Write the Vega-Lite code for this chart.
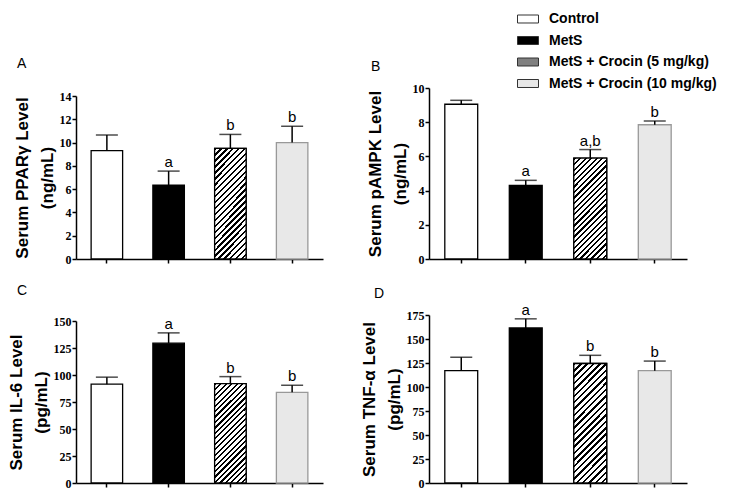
{
  "$schema": "https://vega.github.io/schema/vega-lite/v6.json",
  "autosize": "none",
  "padding": {"left": 76, "top": 88, "right": 664, "bottom": 412},
  "background": "white",
  "data": {"values": [
    {"panel": "A", "group": "Control", "mean": 9.3, "upper": 10.65, "sig": ""},
    {"panel": "A", "group": "MetS", "mean": 6.35, "upper": 7.55, "sig": "a"},
    {"panel": "A", "group": "MetS + Crocin (5 mg/kg)", "mean": 9.5, "upper": 10.7, "sig": "b"},
    {"panel": "A", "group": "MetS + Crocin (10 mg/kg)", "mean": 10.0, "upper": 11.4, "sig": "b"},
    {"panel": "B", "group": "Control", "mean": 9.05, "upper": 9.28, "sig": ""},
    {"panel": "B", "group": "MetS", "mean": 4.3, "upper": 4.6, "sig": "a"},
    {"panel": "B", "group": "MetS + Crocin (5 mg/kg)", "mean": 5.9, "upper": 6.4, "sig": "a,b"},
    {"panel": "B", "group": "MetS + Crocin (10 mg/kg)", "mean": 7.85, "upper": 8.07, "sig": "b"},
    {"panel": "C", "group": "Control", "mean": 91.5, "upper": 98, "sig": ""},
    {"panel": "C", "group": "MetS", "mean": 129.5, "upper": 139, "sig": "a"},
    {"panel": "C", "group": "MetS + Crocin (5 mg/kg)", "mean": 92, "upper": 98.5, "sig": "b"},
    {"panel": "C", "group": "MetS + Crocin (10 mg/kg)", "mean": 84, "upper": 90.5, "sig": "b"},
    {"panel": "D", "group": "Control", "mean": 117, "upper": 131, "sig": ""},
    {"panel": "D", "group": "MetS", "mean": 161.5, "upper": 171, "sig": "a"},
    {"panel": "D", "group": "MetS + Crocin (5 mg/kg)", "mean": 124.5, "upper": 133, "sig": "b"},
    {"panel": "D", "group": "MetS + Crocin (10 mg/kg)", "mean": 117, "upper": 127, "sig": "b"}
  ]},
  "columns": 2,
  "spacing": {"row": 56, "column": 106},
  "bounds": "flush",
  "resolve": {"scale": {"fill": "shared", "x": "independent", "y": "independent"}},
  "concat": [
    {
      "width": 247, "height": 171,
      "title": {"text": "A", "dx": -59, "offset": 17},
      "transform": [{"filter": "datum.panel === 'A'"}],
      "encoding": {
        "x": {"field": "group", "type": "nominal", "scale": {"domain": ["Control", "MetS", "MetS + Crocin (5 mg/kg)", "MetS + Crocin (10 mg/kg)"], "paddingInner": 0, "paddingOuter": 0}, "axis": {"labels": false, "title": null}},
        "y": {"field": "mean", "type": "quantitative", "title": ["Serum PPARγ Level", "(ng/mL)"], "scale": {"domain": [0, 14], "range": [171, 8], "nice": false}, "axis": {"values": [0, 2, 4, 6, 8, 10, 12, 14]}}
      },
      "layer": [
        {"mark": {"type": "bar", "width": {"band": 0.51}, "strokeWidth": 1.3},
         "encoding": {
           "fill": {"field": "group", "type": "nominal", "scale": {"domain": ["Control", "MetS", "MetS + Crocin (5 mg/kg)", "MetS + Crocin (10 mg/kg)"], "range": ["white", "black", "#808080", "#e8e8e8"]},
             "legend": {"title": null, "orient": "none", "legendX": 441, "legendY": -80, "direction": "vertical",
               "symbolType": "M-1,-0.38H1V0.38H-1Z", "symbolSize": 441, "symbolStrokeWidth": 1, "symbolStrokeColor": "#444",
               "labelFont": "Liberation Sans", "labelFontSize": 14, "labelFontWeight": "bold", "labelColor": "black", "labelOffset": 10, "labelLimit": 400, "rowPadding": 3.5,
               "encode": {"symbols": {"update": {
                 "fill": {"condition": {"test": "datum.value === 'MetS + Crocin (5 mg/kg)'", "value": {"gradient": "linear", "x1": 0, "y1": 0, "x2": 1.206, "y2": 0.46, "stops": [
                     {"offset": 0, "color": "black"}, {"offset": 0.0667, "color": "black"}, {"offset": 0.0667, "color": "white"}, {"offset": 0.1667, "color": "white"},
                     {"offset": 0.1667, "color": "black"}, {"offset": 0.2333, "color": "black"}, {"offset": 0.2333, "color": "white"}, {"offset": 0.3333, "color": "white"},
                     {"offset": 0.3333, "color": "black"}, {"offset": 0.4, "color": "black"}, {"offset": 0.4, "color": "white"}, {"offset": 0.5, "color": "white"},
                     {"offset": 0.5, "color": "black"}, {"offset": 0.5667, "color": "black"}, {"offset": 0.5667, "color": "white"}, {"offset": 0.6667, "color": "white"},
                     {"offset": 0.6667, "color": "black"}, {"offset": 0.7333, "color": "black"}, {"offset": 0.7333, "color": "white"}, {"offset": 0.8333, "color": "white"},
                     {"offset": 0.8333, "color": "black"}, {"offset": 0.9, "color": "black"}, {"offset": 0.9, "color": "white"}, {"offset": 1, "color": "white"}]}},
                   "value": {"expr": "scale('fill', datum.value)"}},
                 "stroke": {"condition": {"test": "datum.value === 'MetS + Crocin (10 mg/kg)'", "value": "#999999"}, "value": "#333333"}
               }}}
             }},
           "stroke": {"condition": {"test": "datum.group === 'MetS + Crocin (10 mg/kg)'", "value": "#999999"}, "value": "black"}
         }},
        {"transform": [{"filter": "datum.group === 'MetS + Crocin (5 mg/kg)'"}],
         "mark": {"type": "bar", "width": {"band": 0.51}, "stroke": "black", "strokeWidth": 1.3,
           "fill": {"gradient": "linear", "x1": 0, "y1": 0, "x2": 0.344, "y2": 1.19, "stops": [
             {"offset": 0, "color": "black"}, {"offset": 0.0167, "color": "black"}, {"offset": 0.0167, "color": "white"}, {"offset": 0.0417, "color": "white"},
             {"offset": 0.0417, "color": "black"}, {"offset": 0.0583, "color": "black"}, {"offset": 0.0583, "color": "white"}, {"offset": 0.0833, "color": "white"},
             {"offset": 0.0833, "color": "black"}, {"offset": 0.1, "color": "black"}, {"offset": 0.1, "color": "white"}, {"offset": 0.125, "color": "white"},
             {"offset": 0.125, "color": "black"}, {"offset": 0.1417, "color": "black"}, {"offset": 0.1417, "color": "white"}, {"offset": 0.1667, "color": "white"},
             {"offset": 0.1667, "color": "black"}, {"offset": 0.1833, "color": "black"}, {"offset": 0.1833, "color": "white"}, {"offset": 0.2083, "color": "white"},
             {"offset": 0.2083, "color": "black"}, {"offset": 0.225, "color": "black"}, {"offset": 0.225, "color": "white"}, {"offset": 0.25, "color": "white"},
             {"offset": 0.25, "color": "black"}, {"offset": 0.2667, "color": "black"}, {"offset": 0.2667, "color": "white"}, {"offset": 0.2917, "color": "white"},
             {"offset": 0.2917, "color": "black"}, {"offset": 0.3083, "color": "black"}, {"offset": 0.3083, "color": "white"}, {"offset": 0.3333, "color": "white"},
             {"offset": 0.3333, "color": "black"}, {"offset": 0.35, "color": "black"}, {"offset": 0.35, "color": "white"}, {"offset": 0.375, "color": "white"},
             {"offset": 0.375, "color": "black"}, {"offset": 0.3917, "color": "black"}, {"offset": 0.3917, "color": "white"}, {"offset": 0.4167, "color": "white"},
             {"offset": 0.4167, "color": "black"}, {"offset": 0.4333, "color": "black"}, {"offset": 0.4333, "color": "white"}, {"offset": 0.4583, "color": "white"},
             {"offset": 0.4583, "color": "black"}, {"offset": 0.475, "color": "black"}, {"offset": 0.475, "color": "white"}, {"offset": 0.5, "color": "white"},
             {"offset": 0.5, "color": "black"}, {"offset": 0.5167, "color": "black"}, {"offset": 0.5167, "color": "white"}, {"offset": 0.5417, "color": "white"},
             {"offset": 0.5417, "color": "black"}, {"offset": 0.5583, "color": "black"}, {"offset": 0.5583, "color": "white"}, {"offset": 0.5833, "color": "white"},
             {"offset": 0.5833, "color": "black"}, {"offset": 0.6, "color": "black"}, {"offset": 0.6, "color": "white"}, {"offset": 0.625, "color": "white"},
             {"offset": 0.625, "color": "black"}, {"offset": 0.6417, "color": "black"}, {"offset": 0.6417, "color": "white"}, {"offset": 0.6667, "color": "white"},
             {"offset": 0.6667, "color": "black"}, {"offset": 0.6833, "color": "black"}, {"offset": 0.6833, "color": "white"}, {"offset": 0.7083, "color": "white"},
             {"offset": 0.7083, "color": "black"}, {"offset": 0.725, "color": "black"}, {"offset": 0.725, "color": "white"}, {"offset": 0.75, "color": "white"},
             {"offset": 0.75, "color": "black"}, {"offset": 0.7667, "color": "black"}, {"offset": 0.7667, "color": "white"}, {"offset": 0.7917, "color": "white"},
             {"offset": 0.7917, "color": "black"}, {"offset": 0.8083, "color": "black"}, {"offset": 0.8083, "color": "white"}, {"offset": 0.8333, "color": "white"},
             {"offset": 0.8333, "color": "black"}, {"offset": 0.85, "color": "black"}, {"offset": 0.85, "color": "white"}, {"offset": 0.875, "color": "white"},
             {"offset": 0.875, "color": "black"}, {"offset": 0.8917, "color": "black"}, {"offset": 0.8917, "color": "white"}, {"offset": 0.9167, "color": "white"},
             {"offset": 0.9167, "color": "black"}, {"offset": 0.9333, "color": "black"}, {"offset": 0.9333, "color": "white"}, {"offset": 0.9583, "color": "white"},
             {"offset": 0.9583, "color": "black"}, {"offset": 0.975, "color": "black"}, {"offset": 0.975, "color": "white"}, {"offset": 1, "color": "white"}]}}},
        {"mark": {"type": "rule", "strokeWidth": 1.5, "color": "black"}, "encoding": {"y2": {"field": "upper"}}},
        {"mark": {"type": "tick", "size": 22, "thickness": 1.5, "color": "black"}, "encoding": {"y": {"field": "upper", "type": "quantitative"}}},
        {"mark": {"type": "text", "baseline": "alphabetic", "dy": -4, "fontSize": 15, "font": "Liberation Sans", "color": "black"}, "encoding": {"y": {"field": "upper", "type": "quantitative"}, "text": {"field": "sig"}}}
      ]
    },
    {
      "width": 258, "height": 171,
      "title": {"text": "B", "dx": -58, "offset": 8},
      "transform": [{"filter": "datum.panel === 'B'"}],
      "encoding": {
        "x": {"field": "group", "type": "nominal", "scale": {"domain": ["Control", "MetS", "MetS + Crocin (5 mg/kg)", "MetS + Crocin (10 mg/kg)"], "paddingInner": 0, "paddingOuter": 0}, "axis": {"labels": false, "title": null}},
        "y": {"field": "mean", "type": "quantitative", "title": ["Serum pAMPK Level", "(ng/mL)"], "scale": {"domain": [0, 10], "range": [171, 0], "nice": false}, "axis": {"values": [0, 2, 4, 6, 8, 10]}}
      },
      "layer": [
        {"mark": {"type": "bar", "width": {"band": 0.51}, "strokeWidth": 1.3},
         "encoding": {
           "fill": {"field": "group", "type": "nominal"},
           "stroke": {"condition": {"test": "datum.group === 'MetS + Crocin (10 mg/kg)'", "value": "#999999"}, "value": "black"}
         }},
        {"transform": [{"filter": "datum.group === 'MetS + Crocin (5 mg/kg)'"}],
         "mark": {"type": "bar", "width": {"band": 0.51}, "stroke": "black", "strokeWidth": 1.3,
           "fill": {"gradient": "linear", "x1": 0, "y1": 0, "x2": 0.391, "y2": 1.198, "stops": [
             {"offset": 0, "color": "black"}, {"offset": 0.0167, "color": "black"}, {"offset": 0.0167, "color": "white"}, {"offset": 0.0417, "color": "white"},
             {"offset": 0.0417, "color": "black"}, {"offset": 0.0583, "color": "black"}, {"offset": 0.0583, "color": "white"}, {"offset": 0.0833, "color": "white"},
             {"offset": 0.0833, "color": "black"}, {"offset": 0.1, "color": "black"}, {"offset": 0.1, "color": "white"}, {"offset": 0.125, "color": "white"},
             {"offset": 0.125, "color": "black"}, {"offset": 0.1417, "color": "black"}, {"offset": 0.1417, "color": "white"}, {"offset": 0.1667, "color": "white"},
             {"offset": 0.1667, "color": "black"}, {"offset": 0.1833, "color": "black"}, {"offset": 0.1833, "color": "white"}, {"offset": 0.2083, "color": "white"},
             {"offset": 0.2083, "color": "black"}, {"offset": 0.225, "color": "black"}, {"offset": 0.225, "color": "white"}, {"offset": 0.25, "color": "white"},
             {"offset": 0.25, "color": "black"}, {"offset": 0.2667, "color": "black"}, {"offset": 0.2667, "color": "white"}, {"offset": 0.2917, "color": "white"},
             {"offset": 0.2917, "color": "black"}, {"offset": 0.3083, "color": "black"}, {"offset": 0.3083, "color": "white"}, {"offset": 0.3333, "color": "white"},
             {"offset": 0.3333, "color": "black"}, {"offset": 0.35, "color": "black"}, {"offset": 0.35, "color": "white"}, {"offset": 0.375, "color": "white"},
             {"offset": 0.375, "color": "black"}, {"offset": 0.3917, "color": "black"}, {"offset": 0.3917, "color": "white"}, {"offset": 0.4167, "color": "white"},
             {"offset": 0.4167, "color": "black"}, {"offset": 0.4333, "color": "black"}, {"offset": 0.4333, "color": "white"}, {"offset": 0.4583, "color": "white"},
             {"offset": 0.4583, "color": "black"}, {"offset": 0.475, "color": "black"}, {"offset": 0.475, "color": "white"}, {"offset": 0.5, "color": "white"},
             {"offset": 0.5, "color": "black"}, {"offset": 0.5167, "color": "black"}, {"offset": 0.5167, "color": "white"}, {"offset": 0.5417, "color": "white"},
             {"offset": 0.5417, "color": "black"}, {"offset": 0.5583, "color": "black"}, {"offset": 0.5583, "color": "white"}, {"offset": 0.5833, "color": "white"},
             {"offset": 0.5833, "color": "black"}, {"offset": 0.6, "color": "black"}, {"offset": 0.6, "color": "white"}, {"offset": 0.625, "color": "white"},
             {"offset": 0.625, "color": "black"}, {"offset": 0.6417, "color": "black"}, {"offset": 0.6417, "color": "white"}, {"offset": 0.6667, "color": "white"},
             {"offset": 0.6667, "color": "black"}, {"offset": 0.6833, "color": "black"}, {"offset": 0.6833, "color": "white"}, {"offset": 0.7083, "color": "white"},
             {"offset": 0.7083, "color": "black"}, {"offset": 0.725, "color": "black"}, {"offset": 0.725, "color": "white"}, {"offset": 0.75, "color": "white"},
             {"offset": 0.75, "color": "black"}, {"offset": 0.7667, "color": "black"}, {"offset": 0.7667, "color": "white"}, {"offset": 0.7917, "color": "white"},
             {"offset": 0.7917, "color": "black"}, {"offset": 0.8083, "color": "black"}, {"offset": 0.8083, "color": "white"}, {"offset": 0.8333, "color": "white"},
             {"offset": 0.8333, "color": "black"}, {"offset": 0.85, "color": "black"}, {"offset": 0.85, "color": "white"}, {"offset": 0.875, "color": "white"},
             {"offset": 0.875, "color": "black"}, {"offset": 0.8917, "color": "black"}, {"offset": 0.8917, "color": "white"}, {"offset": 0.9167, "color": "white"},
             {"offset": 0.9167, "color": "black"}, {"offset": 0.9333, "color": "black"}, {"offset": 0.9333, "color": "white"}, {"offset": 0.9583, "color": "white"},
             {"offset": 0.9583, "color": "black"}, {"offset": 0.975, "color": "black"}, {"offset": 0.975, "color": "white"}, {"offset": 1, "color": "white"}]}}},
        {"mark": {"type": "rule", "strokeWidth": 1.5, "color": "black"}, "encoding": {"y2": {"field": "upper"}}},
        {"mark": {"type": "tick", "size": 22, "thickness": 1.5, "color": "black"}, "encoding": {"y": {"field": "upper", "type": "quantitative"}}},
        {"mark": {"type": "text", "baseline": "alphabetic", "dy": -4, "fontSize": 15, "font": "Liberation Sans", "color": "black"}, "encoding": {"y": {"field": "upper", "type": "quantitative"}, "text": {"field": "sig"}}}
      ]
    },
    {
      "width": 247, "height": 168,
      "title": {"text": "C", "dx": -59, "offset": 17},
      "transform": [{"filter": "datum.panel === 'C'"}],
      "encoding": {
        "x": {"field": "group", "type": "nominal", "scale": {"domain": ["Control", "MetS", "MetS + Crocin (5 mg/kg)", "MetS + Crocin (10 mg/kg)"], "paddingInner": 0, "paddingOuter": 0}, "axis": {"labels": false, "title": null}},
        "y": {"field": "mean", "type": "quantitative", "title": ["Serum IL-6 Level", "(pg/mL)"], "scale": {"domain": [0, 150], "range": [168, 6], "nice": false}, "axis": {"values": [0, 25, 50, 75, 100, 125, 150]}}
      },
      "layer": [
        {"mark": {"type": "bar", "width": {"band": 0.51}, "strokeWidth": 1.3},
         "encoding": {
           "fill": {"field": "group", "type": "nominal"},
           "stroke": {"condition": {"test": "datum.group === 'MetS + Crocin (10 mg/kg)'", "value": "#999999"}, "value": "black"}
         }},
        {"transform": [{"filter": "datum.group === 'MetS + Crocin (5 mg/kg)'"}],
         "mark": {"type": "bar", "width": {"band": 0.51}, "stroke": "black", "strokeWidth": 1.3,
           "fill": {"gradient": "linear", "x1": 0, "y1": 0, "x2": 0.379, "y2": 1.197, "stops": [
             {"offset": 0, "color": "black"}, {"offset": 0.0167, "color": "black"}, {"offset": 0.0167, "color": "white"}, {"offset": 0.0417, "color": "white"},
             {"offset": 0.0417, "color": "black"}, {"offset": 0.0583, "color": "black"}, {"offset": 0.0583, "color": "white"}, {"offset": 0.0833, "color": "white"},
             {"offset": 0.0833, "color": "black"}, {"offset": 0.1, "color": "black"}, {"offset": 0.1, "color": "white"}, {"offset": 0.125, "color": "white"},
             {"offset": 0.125, "color": "black"}, {"offset": 0.1417, "color": "black"}, {"offset": 0.1417, "color": "white"}, {"offset": 0.1667, "color": "white"},
             {"offset": 0.1667, "color": "black"}, {"offset": 0.1833, "color": "black"}, {"offset": 0.1833, "color": "white"}, {"offset": 0.2083, "color": "white"},
             {"offset": 0.2083, "color": "black"}, {"offset": 0.225, "color": "black"}, {"offset": 0.225, "color": "white"}, {"offset": 0.25, "color": "white"},
             {"offset": 0.25, "color": "black"}, {"offset": 0.2667, "color": "black"}, {"offset": 0.2667, "color": "white"}, {"offset": 0.2917, "color": "white"},
             {"offset": 0.2917, "color": "black"}, {"offset": 0.3083, "color": "black"}, {"offset": 0.3083, "color": "white"}, {"offset": 0.3333, "color": "white"},
             {"offset": 0.3333, "color": "black"}, {"offset": 0.35, "color": "black"}, {"offset": 0.35, "color": "white"}, {"offset": 0.375, "color": "white"},
             {"offset": 0.375, "color": "black"}, {"offset": 0.3917, "color": "black"}, {"offset": 0.3917, "color": "white"}, {"offset": 0.4167, "color": "white"},
             {"offset": 0.4167, "color": "black"}, {"offset": 0.4333, "color": "black"}, {"offset": 0.4333, "color": "white"}, {"offset": 0.4583, "color": "white"},
             {"offset": 0.4583, "color": "black"}, {"offset": 0.475, "color": "black"}, {"offset": 0.475, "color": "white"}, {"offset": 0.5, "color": "white"},
             {"offset": 0.5, "color": "black"}, {"offset": 0.5167, "color": "black"}, {"offset": 0.5167, "color": "white"}, {"offset": 0.5417, "color": "white"},
             {"offset": 0.5417, "color": "black"}, {"offset": 0.5583, "color": "black"}, {"offset": 0.5583, "color": "white"}, {"offset": 0.5833, "color": "white"},
             {"offset": 0.5833, "color": "black"}, {"offset": 0.6, "color": "black"}, {"offset": 0.6, "color": "white"}, {"offset": 0.625, "color": "white"},
             {"offset": 0.625, "color": "black"}, {"offset": 0.6417, "color": "black"}, {"offset": 0.6417, "color": "white"}, {"offset": 0.6667, "color": "white"},
             {"offset": 0.6667, "color": "black"}, {"offset": 0.6833, "color": "black"}, {"offset": 0.6833, "color": "white"}, {"offset": 0.7083, "color": "white"},
             {"offset": 0.7083, "color": "black"}, {"offset": 0.725, "color": "black"}, {"offset": 0.725, "color": "white"}, {"offset": 0.75, "color": "white"},
             {"offset": 0.75, "color": "black"}, {"offset": 0.7667, "color": "black"}, {"offset": 0.7667, "color": "white"}, {"offset": 0.7917, "color": "white"},
             {"offset": 0.7917, "color": "black"}, {"offset": 0.8083, "color": "black"}, {"offset": 0.8083, "color": "white"}, {"offset": 0.8333, "color": "white"},
             {"offset": 0.8333, "color": "black"}, {"offset": 0.85, "color": "black"}, {"offset": 0.85, "color": "white"}, {"offset": 0.875, "color": "white"},
             {"offset": 0.875, "color": "black"}, {"offset": 0.8917, "color": "black"}, {"offset": 0.8917, "color": "white"}, {"offset": 0.9167, "color": "white"},
             {"offset": 0.9167, "color": "black"}, {"offset": 0.9333, "color": "black"}, {"offset": 0.9333, "color": "white"}, {"offset": 0.9583, "color": "white"},
             {"offset": 0.9583, "color": "black"}, {"offset": 0.975, "color": "black"}, {"offset": 0.975, "color": "white"}, {"offset": 1, "color": "white"}]}}},
        {"mark": {"type": "rule", "strokeWidth": 1.5, "color": "black"}, "encoding": {"y2": {"field": "upper"}}},
        {"mark": {"type": "tick", "size": 22, "thickness": 1.5, "color": "black"}, "encoding": {"y": {"field": "upper", "type": "quantitative"}}},
        {"mark": {"type": "text", "baseline": "alphabetic", "dy": -4, "fontSize": 15, "font": "Liberation Sans", "color": "black"}, "encoding": {"y": {"field": "upper", "type": "quantitative"}, "text": {"field": "sig"}}}
      ]
    },
    {
      "width": 258, "height": 168,
      "title": {"text": "D", "dx": -55, "offset": 2},
      "transform": [{"filter": "datum.panel === 'D'"}],
      "encoding": {
        "x": {"field": "group", "type": "nominal", "scale": {"domain": ["Control", "MetS", "MetS + Crocin (5 mg/kg)", "MetS + Crocin (10 mg/kg)"], "paddingInner": 0, "paddingOuter": 0}, "axis": {"labels": false, "title": null}},
        "y": {"field": "mean", "type": "quantitative", "title": ["Serum TNF-α Level", "(pg/mL)"], "scale": {"domain": [0, 175], "range": [168, 0], "nice": false}, "axis": {"values": [0, 25, 50, 75, 100, 125, 150, 175]}}
      },
      "layer": [
        {"mark": {"type": "bar", "width": {"band": 0.51}, "strokeWidth": 1.3},
         "encoding": {
           "fill": {"field": "group", "type": "nominal"},
           "stroke": {"condition": {"test": "datum.group === 'MetS + Crocin (10 mg/kg)'", "value": "#999999"}, "value": "black"}
         }},
        {"transform": [{"filter": "datum.group === 'MetS + Crocin (5 mg/kg)'"}],
         "mark": {"type": "bar", "width": {"band": 0.51}, "stroke": "black", "strokeWidth": 1.3,
           "fill": {"gradient": "linear", "x1": 0, "y1": 0, "x2": 0.328, "y2": 1.186, "stops": [
             {"offset": 0, "color": "black"}, {"offset": 0.0167, "color": "black"}, {"offset": 0.0167, "color": "white"}, {"offset": 0.0417, "color": "white"},
             {"offset": 0.0417, "color": "black"}, {"offset": 0.0583, "color": "black"}, {"offset": 0.0583, "color": "white"}, {"offset": 0.0833, "color": "white"},
             {"offset": 0.0833, "color": "black"}, {"offset": 0.1, "color": "black"}, {"offset": 0.1, "color": "white"}, {"offset": 0.125, "color": "white"},
             {"offset": 0.125, "color": "black"}, {"offset": 0.1417, "color": "black"}, {"offset": 0.1417, "color": "white"}, {"offset": 0.1667, "color": "white"},
             {"offset": 0.1667, "color": "black"}, {"offset": 0.1833, "color": "black"}, {"offset": 0.1833, "color": "white"}, {"offset": 0.2083, "color": "white"},
             {"offset": 0.2083, "color": "black"}, {"offset": 0.225, "color": "black"}, {"offset": 0.225, "color": "white"}, {"offset": 0.25, "color": "white"},
             {"offset": 0.25, "color": "black"}, {"offset": 0.2667, "color": "black"}, {"offset": 0.2667, "color": "white"}, {"offset": 0.2917, "color": "white"},
             {"offset": 0.2917, "color": "black"}, {"offset": 0.3083, "color": "black"}, {"offset": 0.3083, "color": "white"}, {"offset": 0.3333, "color": "white"},
             {"offset": 0.3333, "color": "black"}, {"offset": 0.35, "color": "black"}, {"offset": 0.35, "color": "white"}, {"offset": 0.375, "color": "white"},
             {"offset": 0.375, "color": "black"}, {"offset": 0.3917, "color": "black"}, {"offset": 0.3917, "color": "white"}, {"offset": 0.4167, "color": "white"},
             {"offset": 0.4167, "color": "black"}, {"offset": 0.4333, "color": "black"}, {"offset": 0.4333, "color": "white"}, {"offset": 0.4583, "color": "white"},
             {"offset": 0.4583, "color": "black"}, {"offset": 0.475, "color": "black"}, {"offset": 0.475, "color": "white"}, {"offset": 0.5, "color": "white"},
             {"offset": 0.5, "color": "black"}, {"offset": 0.5167, "color": "black"}, {"offset": 0.5167, "color": "white"}, {"offset": 0.5417, "color": "white"},
             {"offset": 0.5417, "color": "black"}, {"offset": 0.5583, "color": "black"}, {"offset": 0.5583, "color": "white"}, {"offset": 0.5833, "color": "white"},
             {"offset": 0.5833, "color": "black"}, {"offset": 0.6, "color": "black"}, {"offset": 0.6, "color": "white"}, {"offset": 0.625, "color": "white"},
             {"offset": 0.625, "color": "black"}, {"offset": 0.6417, "color": "black"}, {"offset": 0.6417, "color": "white"}, {"offset": 0.6667, "color": "white"},
             {"offset": 0.6667, "color": "black"}, {"offset": 0.6833, "color": "black"}, {"offset": 0.6833, "color": "white"}, {"offset": 0.7083, "color": "white"},
             {"offset": 0.7083, "color": "black"}, {"offset": 0.725, "color": "black"}, {"offset": 0.725, "color": "white"}, {"offset": 0.75, "color": "white"},
             {"offset": 0.75, "color": "black"}, {"offset": 0.7667, "color": "black"}, {"offset": 0.7667, "color": "white"}, {"offset": 0.7917, "color": "white"},
             {"offset": 0.7917, "color": "black"}, {"offset": 0.8083, "color": "black"}, {"offset": 0.8083, "color": "white"}, {"offset": 0.8333, "color": "white"},
             {"offset": 0.8333, "color": "black"}, {"offset": 0.85, "color": "black"}, {"offset": 0.85, "color": "white"}, {"offset": 0.875, "color": "white"},
             {"offset": 0.875, "color": "black"}, {"offset": 0.8917, "color": "black"}, {"offset": 0.8917, "color": "white"}, {"offset": 0.9167, "color": "white"},
             {"offset": 0.9167, "color": "black"}, {"offset": 0.9333, "color": "black"}, {"offset": 0.9333, "color": "white"}, {"offset": 0.9583, "color": "white"},
             {"offset": 0.9583, "color": "black"}, {"offset": 0.975, "color": "black"}, {"offset": 0.975, "color": "white"}, {"offset": 1, "color": "white"}]}}},
        {"mark": {"type": "rule", "strokeWidth": 1.5, "color": "black"}, "encoding": {"y2": {"field": "upper"}}},
        {"mark": {"type": "tick", "size": 22, "thickness": 1.5, "color": "black"}, "encoding": {"y": {"field": "upper", "type": "quantitative"}}},
        {"mark": {"type": "text", "baseline": "alphabetic", "dy": -4, "fontSize": 15, "font": "Liberation Sans", "color": "black"}, "encoding": {"y": {"field": "upper", "type": "quantitative"}, "text": {"field": "sig"}}}
      ]
    }
  ],
  "config": {
    "view": {"stroke": null},
    "font": "Liberation Sans",
    "title": {"anchor": "start", "frame": "group", "font": "Liberation Sans", "fontSize": 14, "fontWeight": "normal", "color": "black"},
    "axis": {"domainColor": "black", "domainWidth": 1.5, "tickColor": "black", "tickWidth": 1.5, "tickSize": 4, "grid": false, "labelColor": "black"},
    "axisY": {"labelFont": "Liberation Serif", "labelFontWeight": "bold", "labelFontSize": 12, "labelPadding": 1, "titleFont": "Liberation Sans", "titleFontSize": 17, "titleFontWeight": "bold", "titleColor": "black", "titleLineHeight": 25, "titlePadding": 3}
  }
}
